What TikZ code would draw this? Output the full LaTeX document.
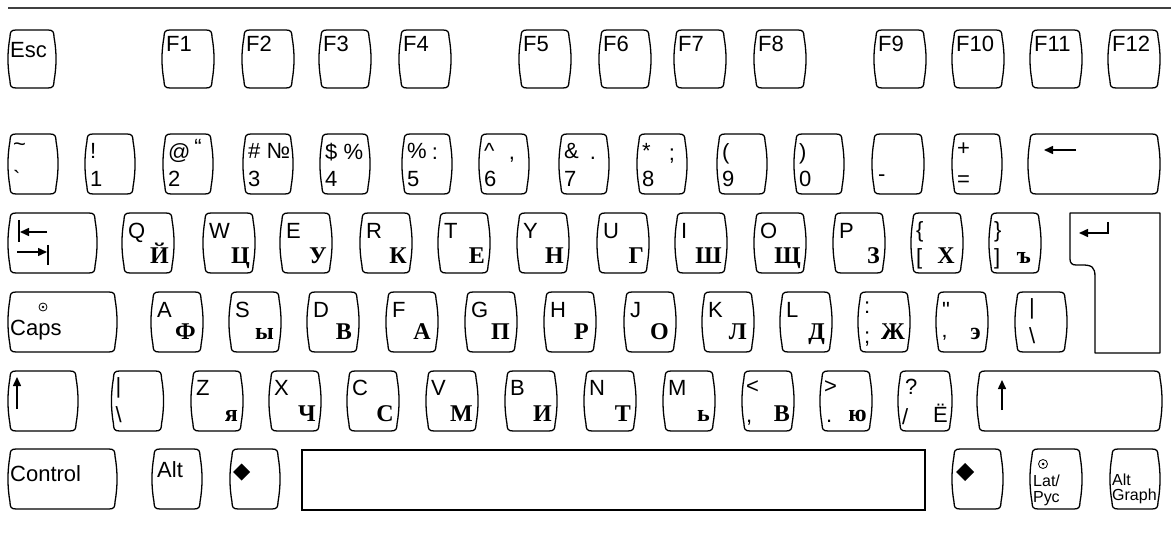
\documentclass[tikz,border=0pt]{standalone}
\usepackage{fontspec}
\setmainfont{Liberation Sans}
\newfontfamily\serifcyr{Liberation Serif}
\usetikzlibrary{arrows.meta}

\newcommand\lblfont{\fontsize{22}{24}\selectfont}
\newcommand\smallfont{\fontsize{16}{17}\selectfont}
\newcommand\rufont{\serifcyr\bfseries\fontsize{24}{25}\selectfont}

% barrel shaped outline drawn round a key node
\newcommand\keyshape[1]{%
  \draw[keyline] ([xshift=8pt]#1.north west) -- ([xshift=-8pt]#1.north east)
    .. controls ([xshift=-3pt]#1.north east) and ([xshift=-2pt,yshift=-2pt]#1.north east)
    .. ([xshift=-2pt,yshift=-7pt]#1.north east)
    .. controls ([xshift=0.7pt,yshift=-22pt]#1.north east) and ([xshift=0.7pt,yshift=22pt]#1.south east)
    .. ([xshift=-2pt,yshift=7pt]#1.south east)
    .. controls ([xshift=-2pt,yshift=2pt]#1.south east) and ([xshift=-3pt]#1.south east)
    .. ([xshift=-8pt]#1.south east) -- ([xshift=8pt]#1.south west)
    .. controls ([xshift=3pt]#1.south west) and ([xshift=2pt,yshift=2pt]#1.south west)
    .. ([xshift=2pt,yshift=7pt]#1.south west)
    .. controls ([xshift=-0.7pt,yshift=22pt]#1.south west) and ([xshift=-0.7pt,yshift=-22pt]#1.north west)
    .. ([xshift=2pt,yshift=-7pt]#1.north west)
    .. controls ([xshift=2pt,yshift=-2pt]#1.north west) and ([xshift=3pt]#1.north west)
    .. cycle;}

\tikzset{
  keycap/.style 2 args={minimum width=#1, minimum height=#2, inner sep=0pt, outer sep=0pt},
  keyline/.style={line width=1.3pt, line join=round},
  lat/.style={anchor=north west, inner sep=0pt, font=\lblfont},
  low/.style={anchor=base west, inner sep=0pt, font=\lblfont},
  ru/.style={anchor=base east, inner sep=0pt, font=\rufont},
  sym/.style={inner sep=0pt, font=\lblfont},
  smalllbl/.style={anchor=base west, inner sep=0pt, font=\smallfont},
  arrowglyph/.style={line width=1.5pt, -{Triangle[length=9pt,width=8pt]}}
}

\begin{document}
\begin{tikzpicture}[x=1pt,y=-1pt]
  \useasboundingbox (0,0) rectangle (1171,540);
  \coordinate (rulel) at (8,8);
  \coordinate (ruler) at (1171,8);
  \draw[line width=2pt, black!75] (rulel) -- (ruler);

  % function row
  \node[keycap={48}{58}] (esc) at (32,59) {};
  \keyshape{esc}
  \node[lat] (esc-l) at ([shift={(2,12)}]esc.north west) {Esc};
  \foreach \k/\cx in {1/188,2/268,3/345,4/425,5/545,6/625,7/700,8/780,9/900,10/978,11/1056,12/1134} {
      \node[keycap={52}{58}] (f\k) at (\cx,59) {};
      \keyshape{f\k}
      \node[lat] (f\k-l) at ([shift={(4,6)}]f\k.north west) {F\k};
  }

  % digit row
  \foreach \k/\cx/\up/\dn in {tilde/33/\textasciitilde/\textasciigrave, one/110/!/1, two/188/@/2,
      three/268/{\#\ №}/3, four/345/{\$\ \%}/4, five/427/\%/5, six/504/\textasciicircum/6,
      seven/584/\&/7, eight/662/*/8, nine/742/{(}/9, zero/819/{)}/0, equal/977/+/=} {
      \node[keycap={50}{60}] (\k) at (\cx,164) {};
      \keyshape{\k}
      \node[lat] (\k-u) at ([shift={(5,9)}]\k.north west) {\up};
      \node[low] (\k-d) at ([shift={(5,-7)}]\k.south west) {\dn};
  }
  \node[sym] (two-r) at ([shift={(10,-17)}]two.center) {“};
  \node[sym] (five-r) at ([shift={(8,-10)}]five.center) {:};
  \node[sym] (six-r) at ([shift={(8,-4)}]six.center) {,};
  \node[sym] (seven-r) at ([shift={(9,-6)}]seven.center) {.};
  \node[sym] (eight-r) at ([shift={(10,-8)}]eight.center) {;};
  \node[keycap={52}{60}] (minus) at (898,164) {};
  \keyshape{minus}
  \node[low] (minus-d) at ([shift={(6,-12)}]minus.south west) {-};
  \node[keycap={132}{60}] (bksp) at (1094,164) {};
  \keyshape{bksp}
  \draw[arrowglyph] ([shift={(48,16)}]bksp.north west) -- ([shift={(16,16)}]bksp.north west);

  % upper letter row
  \node[keycap={89}{60}] (tab) at (52.5,243) {};
  \keyshape{tab}
  \draw[line width=1.5pt] ([shift={(11,7)}]tab.north west) -- ([shift={(11,29)}]tab.north west);
  \draw[arrowglyph] ([shift={(39,19)}]tab.north west) -- ([shift={(12,19)}]tab.north west);
  \draw[arrowglyph] ([shift={(9,39)}]tab.north west) -- ([shift={(39,39)}]tab.north west);
  \draw[line width=1.5pt] ([shift={(40,32)}]tab.north west) -- ([shift={(40,52)}]tab.north west);
  \foreach \k/\cx/\la/\rl in {q/148/Q/Й, w/229/W/Ц, e/306/E/У, r/386/R/К, t/464/T/Е,
      y/543/Y/Н, u/623/U/Г, i/701/I/Ш, o/780/O/Щ, p/859/P/З} {
      \node[keycap={52}{60}] (\k) at (\cx,243) {};
      \keyshape{\k}
      \node[lat] (\k-l) at ([shift={(6,10)}]\k.north west) {\la};
      \node[ru] (\k-r) at ([shift={(-5,-9)}]\k.south east) {\rl};
  }
  \node[keycap={52}{60}] (lbrace) at (937,243) {};
  \keyshape{lbrace}
  \node[lat] (lbrace-u) at ([shift={(5,8)}]lbrace.north west) {\{};
  \node[low] (lbrace-d) at ([shift={(5,-8)}]lbrace.south west) {[};
  \node[ru] (lbrace-r) at ([shift={(-8,-9)}]lbrace.south east) {Х};
  \node[keycap={52}{60}] (rbrace) at (1015,243) {};
  \keyshape{rbrace}
  \node[lat] (rbrace-u) at ([shift={(5,8)}]rbrace.north west) {\}};
  \node[low] (rbrace-d) at ([shift={(5,-8)}]rbrace.south west) {]};
  \node[ru] (rbrace-r) at ([shift={(-10,-9)}]rbrace.south east) {ъ};
  \node[keycap={90}{140}] (enter) at (1115,283) {};
  \draw[keyline] (enter.north west) -- (enter.north east) -- (enter.south east)
    -- ([xshift=25pt]enter.south west) -- ([xshift=25pt,yshift=76pt]enter.south west)
    .. controls ([xshift=25pt,yshift=86pt]enter.south west) and ([xshift=22pt,yshift=88pt]enter.south west)
    .. ([xshift=12pt,yshift=88pt]enter.south west) -- ([xshift=6pt,yshift=88pt]enter.south west)
    .. controls ([xshift=2pt,yshift=88pt]enter.south west) and ([yshift=90pt]enter.south west)
    .. ([yshift=94pt]enter.south west) -- cycle;
  \draw[line width=1.5pt] ([shift={(38,9)}]enter.north west) -- ([shift={(38,20)}]enter.north west);
  \draw[arrowglyph] ([shift={(38.75,20)}]enter.north west) -- ([shift={(9,20)}]enter.north west);

  % home row
  \node[keycap={109}{60}] (caps) at (62.5,322) {};
  \keyshape{caps}
  \draw[line width=0.8pt] ([shift={(35,15)}]caps.north west) circle (4pt);
  \fill ([shift={(35,15)}]caps.north west) circle (1.3pt);
  \node[low] (caps-l) at ([shift={(2,44)}]caps.north west) {Caps};
  \foreach \k/\cx/\la/\rl in {a/177/A/Ф, s/255/S/ы, d/333/D/В, f/412/F/А, g/491/G/П,
      h/570/H/Р, j/650/J/О, k/728/K/Л, l/806/L/Д} {
      \node[keycap={52}{60}] (\k) at (\cx,322) {};
      \keyshape{\k}
      \node[lat] (\k-l) at ([shift={(6,10)}]\k.north west) {\la};
      \node[ru] (\k-r) at ([shift={(-7,-12)}]\k.south east) {\rl};
  }
  \node[keycap={52}{60}] (semi) at (884,322) {};
  \keyshape{semi}
  \node[lat] (semi-u) at ([shift={(6,10)}]semi.north west) {:};
  \node[low] (semi-d) at ([shift={(6,-8)}]semi.south west) {;};
  \node[ru] (semi-r) at ([shift={(-5,-12)}]semi.south east) {Ж};
  \node[keycap={52}{60}] (quote) at (962,322) {};
  \keyshape{quote}
  \node[lat] (quote-u) at ([shift={(6,10)}]quote.north west) {\textquotedbl};
  \node[low] (quote-d) at ([shift={(6,-2)}]quote.south west) {'};
  \node[ru] (quote-r) at ([shift={(-7,-12)}]quote.south east) {э};
  \node[keycap={52}{60}] (bar) at (1041,322) {};
  \keyshape{bar}
  \node[lat] (bar-u) at ([shift={(14,6)}]bar.north west) {|};
  \node[low] (bar-d) at ([shift={(14,-8)}]bar.south west) {\textbackslash};

  % lower letter row
  \node[keycap={70}{60}] (lshift) at (43,401) {};
  \keyshape{lshift}
  \draw[arrowglyph] ([shift={(9,38)}]lshift.north west) -- ([shift={(9,6)}]lshift.north west);
  \node[keycap={52}{60}] (bslash) at (137.5,401) {};
  \keyshape{bslash}
  \node[lat] (bslash-u) at ([shift={(4,6)}]bslash.north west) {|};
  \node[low] (bslash-d) at ([shift={(4,-9)}]bslash.south west) {\textbackslash};
  \foreach \k/\cx/\la/\rl in {z/217/Z/я, x/295/X/Ч, c/373/C/С, v/452/V/М, b/531/B/И,
      n/610/N/Т, m/689/M/ь} {
      \node[keycap={52}{60}] (\k) at (\cx,401) {};
      \keyshape{\k}
      \node[lat] (\k-l) at ([shift={(5,9)}]\k.north west) {\la};
      \node[ru] (\k-r) at ([shift={(-5,-10)}]\k.south east) {\rl};
  }
  \node[keycap={52}{60}] (comma) at (768,401) {};
  \keyshape{comma}
  \node[lat] (comma-u) at ([shift={(4,9)}]comma.north west) {<};
  \node[low] (comma-d) at ([shift={(4,-9)}]comma.south west) {,};
  \node[ru] (comma-r) at ([shift={(-4,-10)}]comma.south east) {В};
  \node[keycap={52}{60}] (period) at (846,401) {};
  \keyshape{period}
  \node[lat] (period-u) at ([shift={(4,9)}]period.north west) {>};
  \node[low] (period-d) at ([shift={(6,-9)}]period.south west) {.};
  \node[ru] (period-r) at ([shift={(-5,-10)}]period.south east) {ю};
  \node[keycap={54}{60}] (slash) at (925,401) {};
  \keyshape{slash}
  \node[lat] (slash-u) at ([shift={(7,8)}]slash.north west) {?};
  \node[low] (slash-d) at ([shift={(4,-7)}]slash.south west) {/};
  \node[low, anchor=base east] (slash-r) at ([shift={(-4,-9)}]slash.south east) {Ё};
  \node[keycap={185}{60}] (rshift) at (1069.5,401) {};
  \keyshape{rshift}
  \draw[arrowglyph] ([shift={(25,39)}]rshift.north west) -- ([shift={(25,9)}]rshift.north west);

  % bottom row
  \node[keycap={109}{60}] (ctrl) at (62.5,479) {};
  \keyshape{ctrl}
  \node[low] (ctrl-l) at ([shift={(2,32)}]ctrl.north west) {Control};
  \node[keycap={50}{60}] (alt) at (177,479) {};
  \keyshape{alt}
  \node[lat] (alt-l) at ([shift={(5,12)}]alt.north west) {Alt};
  \node[keycap={50}{60}] (lmeta) at (255,479) {};
  \keyshape{lmeta}
  \fill ([shift={(3,23)}]lmeta.north west) -- ++(8.5,-8.5) -- ++(8.5,8.5) -- ++(-8.5,8.5) -- cycle;
  \node[draw, line width=1.3pt, inner sep=0pt, minimum width=623, minimum height=60] (space) at (613.5,480) {};
  \node[keycap={51}{60}] (rmeta) at (977.5,479) {};
  \keyshape{rmeta}
  \fill ([shift={(4,23)}]rmeta.north west) -- ++(9,-9) -- ++(9,9) -- ++(-9,9) -- cycle;
  \node[keycap={52}{60}] (latrus) at (1056,479) {};
  \keyshape{latrus}
  \draw[line width=0.8pt] ([shift={(13,15)}]latrus.north west) circle (4.5pt);
  \fill ([shift={(13,15)}]latrus.north west) circle (1.5pt);
  \node[smalllbl] (latrus-a) at ([shift={(3,37)}]latrus.north west) {Lat/};
  \node[smalllbl] (latrus-b) at ([shift={(3,53)}]latrus.north west) {Рус};
  \node[keycap={50}{60}] (altgr) at (1135,479) {};
  \keyshape{altgr}
  \node[smalllbl] (altgr-a) at ([shift={(2,36)}]altgr.north west) {Alt};
  \node[smalllbl] (altgr-b) at ([shift={(2,51)}]altgr.north west) {Graph};
\end{tikzpicture}
\end{document}
